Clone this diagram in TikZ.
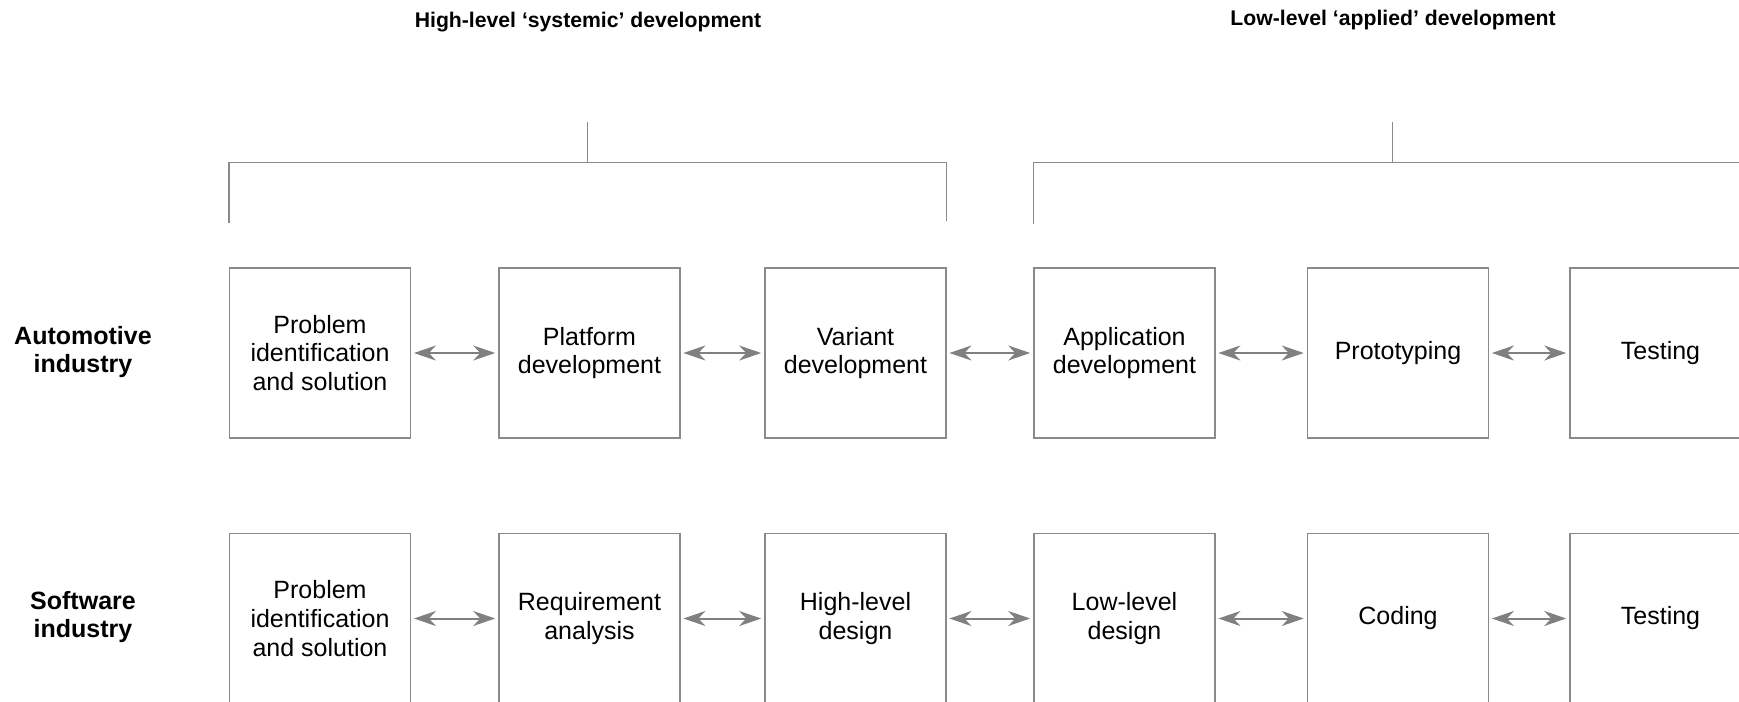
\documentclass[tikz,border=0pt]{standalone}
\usepackage{fontspec}
\setmainfont{Liberation Sans}
\usetikzlibrary{arrows.meta,calc}
\definecolor{linegray}{HTML}{8A8A8A}
\definecolor{arrgray}{HTML}{808080}
\begin{document}
\begin{tikzpicture}[x=0.5pt,y=-0.5pt,
  stagebox/.style={draw=linegray, line width=0.6pt, minimum width=90.5pt, minimum height=85pt, align=center, inner sep=2pt, font=\fontsize{12.5}{14.4}\selectfont},
  link/.style={draw=arrgray, line width=1pt, {Stealth[length=11pt,width=7.5pt,inset=3.5pt]}-{Stealth[length=11pt,width=7.5pt,inset=3.5pt]}, shorten <=1.4pt, shorten >=1.6pt},
  brace/.style={draw=linegray, line width=0.6pt},
  rowlabel/.style={align=center, font=\fontsize{12.5}{14.4}\selectfont\bfseries},
  header/.style={font=\fontsize{10.6}{13}\selectfont\bfseries}]
\useasboundingbox (0,0) rectangle (1739,701);
\clip (0,0) rectangle (1739,701);
% headers
\node[header] (h1) at (588,22) {High-level ‘systemic’ development};
\node[header] (h2) at (1393,20) {Low-level ‘applied’ development};
% row labels
\node[rowlabel] (ra) at (83,352) {Automotive\\industry};
\node[rowlabel] (rs) at (83,617) {Software\\industry};
% row 1
\node[stagebox] (a1) at (320,353) {Problem\\identification\\and solution};
\node[stagebox] (a2) at (589.5,353) {Platform\\development};
\node[stagebox] (a3) at (855.5,353) {Variant\\development};
\node[stagebox] (a4) at (1124.5,353) {Application\\development};
\node[stagebox] (a5) at (1398,353) {Prototyping};
\node[stagebox] (a6) at (1660.5,353) {Testing};
% row 2
\node[stagebox] (s1) at (320,618.5) {Problem\\identification\\and solution};
\node[stagebox] (s2) at (589.5,618.5) {Requirement\\analysis};
\node[stagebox] (s3) at (855.5,618.5) {High-level\\design};
\node[stagebox] (s4) at (1124.5,618.5) {Low-level\\design};
\node[stagebox] (s5) at (1398,618.5) {Coding};
\node[stagebox] (s6) at (1660.5,618.5) {Testing};
% arrows
\draw[link] (a1) -- (a2);
\draw[link] (a2) -- (a3);
\draw[link] (a3) -- (a4);
\draw[link] (a4) -- (a5);
\draw[link] (a5) -- (a6);
\draw[link] (s1) -- (s2);
\draw[link] (s2) -- (s3);
\draw[link] (s3) -- (s4);
\draw[link] (s4) -- (s5);
\draw[link] (s5) -- (s6);
% brackets
\coordinate (b1l) at ([yshift=52.5pt]a1.north west);
\coordinate (b1r) at ([yshift=52.5pt]a3.north east);
\coordinate (b2l) at ([yshift=52.5pt]a4.north west);
\coordinate (b2r) at ([yshift=52.5pt]a6.north east);
\draw[brace] ([yshift=22pt]a1.north west) -- (b1l) -- (b1r) -- ([yshift=23pt]a3.north east);
\draw[brace] ([yshift=21.5pt]a4.north west) -- (b2l) -- (b2r) -- ([yshift=21.5pt]a6.north east);
\draw[brace] ($(b1l)!0.5!(b1r)$) -- ++(0,-40);
\draw[brace] ($(b2l)!0.5!(b2r)$) -- ++(0,-40);
\end{tikzpicture}
\end{document}
